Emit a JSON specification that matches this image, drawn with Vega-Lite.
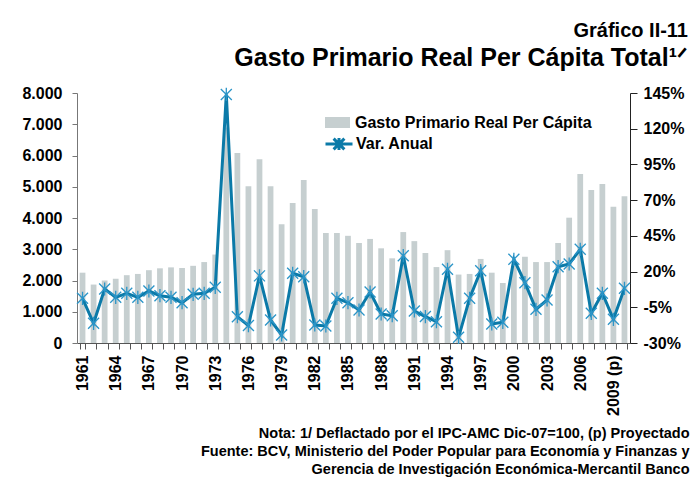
{
  "$schema": "https://vega.github.io/schema/vega-lite/v6.json",
  "width": 553,
  "height": 250,
  "autosize": {"type": "none"},
  "padding": {"left": 77, "top": 93, "right": 64, "bottom": 136},
  "background": "white",
  "config": {"font": "Liberation Sans", "view": {"stroke": null}, "axis": {"grid": false, "labelOverlap": false}},
  "title": {
    "text": "Gráfico II-11",
    "subtitle": "Gasto Primario Real Per Cápita Total¹ᐟ",
    "anchor": "end",
    "frame": "group",
    "dx": 58,
    "offset": 14,
    "font": "Liberation Sans",
    "fontSize": 20,
    "fontWeight": "bold",
    "color": "black",
    "subtitleFont": "Liberation Sans",
    "subtitleFontSize": 25,
    "subtitleFontWeight": "bold",
    "subtitleColor": "black",
    "subtitlePadding": 5
  },
  "data": {
    "values": [
      {"year": 1961, "gasto": 2250, "var": 1.3},
      {"year": 1962, "gasto": 1870, "var": -16.2},
      {"year": 1963, "gasto": 2000, "var": 7.8},
      {"year": 1964, "gasto": 2060, "var": 2.0},
      {"year": 1965, "gasto": 2170, "var": 4.8},
      {"year": 1966, "gasto": 2210, "var": 2.0},
      {"year": 1967, "gasto": 2330, "var": 6.4},
      {"year": 1968, "gasto": 2390, "var": 3.1},
      {"year": 1969, "gasto": 2420, "var": 2.0},
      {"year": 1970, "gasto": 2400, "var": -1.8},
      {"year": 1971, "gasto": 2470, "var": 4.1},
      {"year": 1972, "gasto": 2590, "var": 4.8},
      {"year": 1973, "gasto": 2830, "var": 9.0},
      {"year": 1974, "gasto": 6900, "var": 144},
      {"year": 1975, "gasto": 6080, "var": -11.6},
      {"year": 1976, "gasto": 5020, "var": -17.8},
      {"year": 1977, "gasto": 5880, "var": 17.0},
      {"year": 1978, "gasto": 5020, "var": -13.9},
      {"year": 1979, "gasto": 3800, "var": -24.4},
      {"year": 1980, "gasto": 4480, "var": 18.8},
      {"year": 1981, "gasto": 5220, "var": 16.4},
      {"year": 1982, "gasto": 4290, "var": -17.4},
      {"year": 1983, "gasto": 3520, "var": -18.1},
      {"year": 1984, "gasto": 3520, "var": 1.3},
      {"year": 1985, "gasto": 3430, "var": -1.8},
      {"year": 1986, "gasto": 3200, "var": -6.9},
      {"year": 1987, "gasto": 3330, "var": 5.7},
      {"year": 1988, "gasto": 3030, "var": -9.7},
      {"year": 1989, "gasto": 2710, "var": -10.9},
      {"year": 1990, "gasto": 3550, "var": 31.1},
      {"year": 1991, "gasto": 3260, "var": -7.6},
      {"year": 1992, "gasto": 2880, "var": -11.5},
      {"year": 1993, "gasto": 2430, "var": -15.1},
      {"year": 1994, "gasto": 2970, "var": 21.6},
      {"year": 1995, "gasto": 2190, "var": -26.0},
      {"year": 1996, "gasto": 2210, "var": 1.3},
      {"year": 1997, "gasto": 2690, "var": 20.6},
      {"year": 1998, "gasto": 2250, "var": -16.7},
      {"year": 1999, "gasto": 1920, "var": -15.5},
      {"year": 2000, "gasto": 2470, "var": 28.6},
      {"year": 2001, "gasto": 2760, "var": 12.2},
      {"year": 2002, "gasto": 2590, "var": -6.4},
      {"year": 2003, "gasto": 2590, "var": 0.1},
      {"year": 2004, "gasto": 3200, "var": 23.4},
      {"year": 2005, "gasto": 4010, "var": 25.3},
      {"year": 2006, "gasto": 5410, "var": 35.6},
      {"year": 2007, "gasto": 4900, "var": -9.2},
      {"year": 2008, "gasto": 5090, "var": 4.8},
      {"year": 2009, "gasto": 4360, "var": -13.4},
      {"year": 2010, "gasto": 4700, "var": 8.3}
    ]
  },
  "layer": [
    {
      "mark": {"type": "bar"},
      "encoding": {
        "x": {
          "field": "year",
          "type": "ordinal",
          "scale": {"paddingInner": 0.48, "paddingOuter": 0.24},
          "axis": {
            "title": [
              "Nota: 1/ Deflactado por el IPC-AMC Dic-07=100, (p) Proyectado",
              "Fuente: BCV, Ministerio del Poder Popular para Economía y Finanzas y",
              "Gerencia de Investigación Económica-Mercantil Banco"
            ],
            "titleAnchor": "end",
            "titleAlign": "right",
            "titleX": 612,
            "titleY": 83,
            "titleBaseline": "top",
            "titleFont": "Liberation Sans",
            "titleFontSize": 14.5,
            "titleFontWeight": "bold",
            "titleLineHeight": 18,
            "titleColor": "black",
            "labelAngle": -90,
            "labelFont": "Liberation Sans",
            "labelFontSize": 16,
            "labelFontWeight": "bold",
            "labelColor": "black",
            "labelPadding": 6,
            "labelExpr": "(datum.value - 1961) % 3 == 0 ? (datum.value == 2009 ? '2009 (p)' : '' + datum.value) : ''",
            "tickBand": "extent",
            "tickSize": 6,
            "tickColor": "#555555",
            "domainColor": "#555555"
          }
        },
        "y": {
          "field": "gasto",
          "type": "quantitative",
          "scale": {"domain": [0, 8000], "nice": false},
          "axis": {
            "title": null,
            "values": [0, 1000, 2000, 3000, 4000, 5000, 6000, 7000, 8000],
            "labelExpr": "replace(format(datum.value, ',d'), ',', '.')",
            "labelFont": "Liberation Sans",
            "labelFontSize": 16,
            "labelFontWeight": "bold",
            "labelColor": "black",
            "tickSize": 5,
            "labelPadding": 10,
            "tickColor": "#777777",
            "domainColor": "#777777"
          }
        },
        "fill": {
          "datum": "Gasto Primario Real Per Cápita",
          "type": "nominal",
          "scale": {"range": ["#c6cfd0"]},
          "legend": {
            "orient": "none",
            "legendX": 247,
            "legendY": 16,
            "title": null,
            "padding": 0,
            "labelFont": "Liberation Sans",
            "labelFontSize": 16,
            "labelFontWeight": "bold",
            "labelColor": "black",
            "labelLimit": 400,
            "symbolType": "M-1,-0.44H1V0.44H-1Z",
            "symbolSize": 625,
            "symbolOpacity": 1
          }
        }
      }
    },
    {
      "layer": [
        {
          "mark": {"type": "line", "strokeWidth": 3},
          "encoding": {
            "x": {"field": "year", "type": "ordinal"},
            "y": {
              "field": "var",
              "type": "quantitative",
              "scale": {"domain": [-30, 145], "nice": false, "zero": false},
              "axis": {
                "orient": "right",
                "title": null,
                "values": [-30, -5, 20, 45, 70, 95, 120, 145],
                "labelExpr": "datum.value + '%'",
                "labelFont": "Liberation Sans",
                "labelFontSize": 16,
                "labelFontWeight": "bold",
                "labelColor": "black",
                "tickSize": 7,
                "labelPadding": 6,
                "tickColor": "#222222",
                "domainColor": "#222222"
              }
            },
            "stroke": {
              "datum": "Var. Anual",
              "type": "nominal",
              "scale": {"range": ["#0b7aa8"]},
              "legend": {
                "orient": "none",
                "legendX": 247,
                "legendY": 36,
                "title": null,
                "padding": 0,
                "labelFont": "Liberation Sans",
                "labelFontSize": 16,
                "labelFontWeight": "bold",
                "labelColor": "black",
                "labelLimit": 400,
                "labelOffset": 2,
                "symbolType": "M-1,0H1M-0.4,-0.4L0.4,0.4M-0.4,0.4L0.4,-0.4M0,-0.45V0.45",
                "symbolSize": 729,
                "symbolStrokeWidth": 3
              }
            }
          }
        },
        {
          "mark": {
            "type": "point",
            "shape": "M-1,-1L1,1M-1,1L1,-1M0,-1.2V1.2",
            "filled": false,
            "stroke": "#2b95c8",
            "strokeWidth": 1.3,
            "size": 121,
            "opacity": 1
          },
          "encoding": {
            "x": {"field": "year", "type": "ordinal"},
            "y": {
              "field": "var",
              "type": "quantitative",
              "scale": {"domain": [-30, 145], "nice": false, "zero": false},
              "axis": {
                "orient": "right",
                "title": null,
                "values": [-30, -5, 20, 45, 70, 95, 120, 145],
                "labelExpr": "datum.value + '%'",
                "labelFont": "Liberation Sans",
                "labelFontSize": 16,
                "labelFontWeight": "bold",
                "labelColor": "black",
                "tickSize": 7,
                "labelPadding": 6,
                "tickColor": "#222222",
                "domainColor": "#222222"
              }
            }
          }
        }
      ]
    }
  ],
  "resolve": {"scale": {"y": "independent"}}
}
